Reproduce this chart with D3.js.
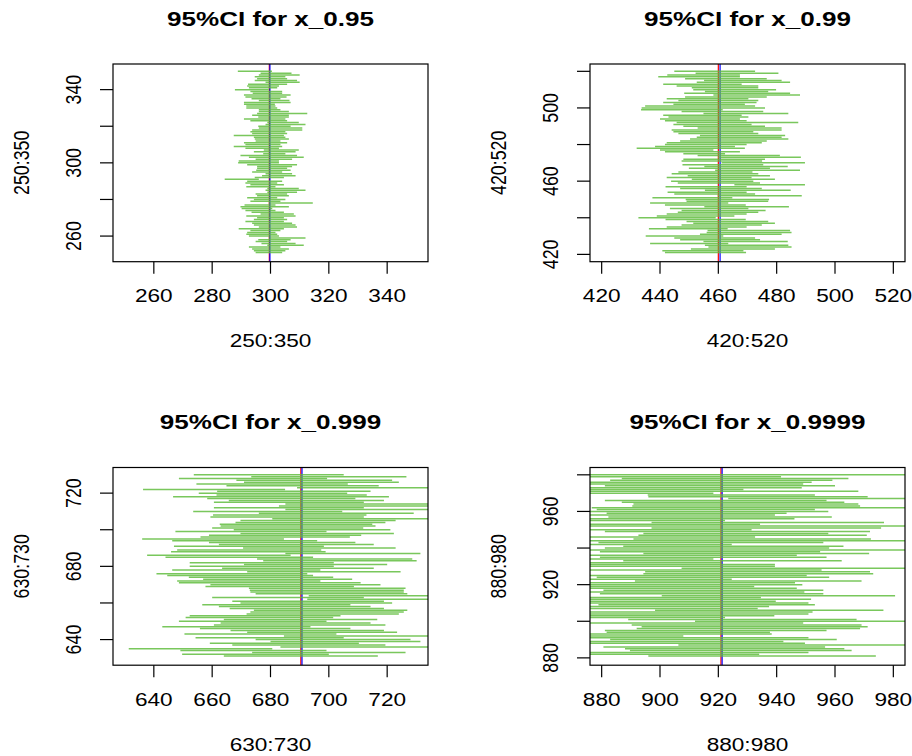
<!DOCTYPE html>
<html>
<head>
<meta charset="utf-8">
<script src="https://cdn.jsdelivr.net/npm/d3@7"></script>
<style>
  body { margin: 0; background: #fff; }
  svg { display: block; }
  text { font-family: "Liberation Sans", Arial, Helvetica, sans-serif; fill: #000; }
</style>
</head>
<body>
<svg width="912" height="756"></svg>
<script>
// CI lower / upper bounds, listed from the top row down
var lo1 = [288.8,296.6,296.0,294.6,295.4,294.6,298.3,292.3,292.0,292.6,
  287.8,293.1,293.9,290.9,291.4,293.5,296.0,290.9,290.9,291.7,
  291.7,296.0,296.0,295.4,293.7,295.8,290.9,293.1,298.9,298.3,
  295.8,296.0,293.7,293.1,293.7,287.4,294.3,294.6,294.9,290.9,
  291.4,287.4,291.4,297.7,294.3,297.5,289.7,292.6,294.9,289.1,
  288.9,292.0,295.4,295.4,295.1,293.7,298.3,297.1,294.6,284.3,
  292.0,291.4,293.1,291.7,298.9,298.3,298.9,294.9,295.4,292.0,
  294.3,293.1,299.4,291.1,289.7,290.1,291.4,293.5,296.6,291.7,
  295.4,294.3,291.4,293.7,294.3,296.0,289.1,293.1,292.0,291.7,
  292.6,299.4,295.8,294.9,296.9,298.9,292.6,293.7,294.3,294.9];
var hi1 = [300.5,307.2,310.0,305.1,305.7,309.1,310.0,305.7,302.9,302.3,
  299.4,304.0,304.0,306.9,305.5,303.4,306.5,306.9,301.5,301.7,
  302.3,303.4,306.3,312.6,306.3,306.3,305.1,305.7,309.7,312.0,
  306.9,310.9,310.9,305.1,305.7,304.6,305.1,306.3,303.4,305.7,
  303.4,304.0,302.9,309.7,308.6,305.1,309.1,311.4,307.4,302.9,
  302.9,309.1,307.4,305.7,306.9,304.0,307.4,308.6,304.6,296.0,
  304.0,302.3,304.6,301.7,309.7,312.0,309.1,305.7,306.3,302.3,
  305.1,303.4,314.5,301.7,306.3,300.6,301.7,304.6,308.0,308.6,
  304.6,305.7,304.6,307.4,308.6,309.1,304.6,303.4,301.7,302.3,
  302.9,312.0,306.9,305.7,308.6,311.4,303.4,306.3,305.1,304.0];

var lo2 = [444.9,452.2,442.5,439.4,448.6,455.1,452.6,441.1,445.7,450.9,
  451.4,455.4,448.3,458.3,448.6,442.3,446.3,441.1,444.6,434.9,
  433.7,433.5,447.4,454.9,441.1,442.9,440.0,441.7,445.7,444.6,
  448.0,452.9,444.0,444.6,446.3,453.7,452.6,450.3,446.9,442.3,
  441.7,438.3,432.0,440.0,441.7,448.0,452.9,459.9,448.0,447.4,
  461.1,447.7,455.2,449.9,458.9,446.3,444.0,449.5,442.3,450.9,
  443.8,446.1,465.5,441.9,446.9,455.4,442.6,444.9,459.8,437.4,
  448.8,449.1,436.6,441.7,455.2,443.4,447.4,446.1,442.3,438.9,
  432.6,441.9,449.1,451.4,447.4,442.3,436.2,456.3,456.0,453.7,
  435.1,444.9,446.9,454.9,436.6,455.4,456.6,450.6,440.8,441.7];
var hi2 = [472.6,480.6,467.4,467.4,476.6,481.7,484.6,468.0,473.7,473.7,
  479.8,477.1,484.6,488.0,476.6,470.3,473.7,473.1,469.1,472.6,
  476.0,461.5,475.4,484.0,468.0,470.3,467.4,469.7,487.4,471.4,
  476.0,481.7,481.7,472.0,473.7,482.9,481.7,484.0,476.6,474.9,
  469.7,465.7,469.1,458.3,467.4,462.3,481.1,488.3,476.0,475.0,
  489.7,475.4,483.8,477.7,488.0,471.7,473.7,477.7,471.4,479.4,
  472.0,474.3,489.7,469.7,474.9,484.8,469.7,472.6,488.6,464.8,
  477.4,477.1,463.4,469.4,484.2,470.3,476.2,473.7,469.7,465.5,
  459.1,469.4,477.1,479.4,474.9,469.7,463.2,484.6,485.1,481.7,
  461.7,472.6,474.3,483.8,463.4,484.0,485.1,479.4,468.6,469.5];

var lo3 = [653.7,673.4,648.6,668.3,670.9,654.6,664.9,689.1,636.3,661.7,
  655.4,661.5,646.6,658.3,665.7,660.6,685.1,682.9,660.6,685.1,
  653.5,676.0,660.3,659.4,680.6,669.7,668.0,662.6,662.9,660.0,
  667.4,647.4,669.7,658.9,656.0,636.0,646.3,658.9,662.3,646.9,
  670.6,648.0,645.9,685.1,637.7,644.0,675.4,677.5,652.3,670.9,
  652.3,663.4,646.3,672.0,640.9,644.6,652.0,656.9,648.0,648.6,
  659.4,657.7,672.6,672.9,673.1,674.9,693.1,660.0,692.6,666.9,
  669.7,656.6,662.3,666.0,674.3,673.1,671.8,652.3,650.9,664.0,
  648.6,662.9,660.6,642.9,655.8,666.3,672.0,650.5,684.6,654.3,
  674.9,680.0,659.2,666.9,683.4,631.4,649.1,673.7,649.7,664.0];
var hi3 = [705.1,726.6,699.4,721.7,724.0,706.5,717.1,738.0,685.0,714.3,
  706.3,713.0,720.6,709.1,718.9,712.0,737.5,736.0,712.0,739.0,
  704.6,729.1,712.9,712.0,735.5,722.9,719.4,714.9,716.0,711.8,
  721.1,699.2,722.3,711.1,707.2,684.6,696.0,709.1,715.4,698.3,
  722.9,697.4,698.9,731.4,686.9,694.6,728.6,730.1,701.7,720.0,
  701.7,715.4,697.1,724.6,692.6,694.6,701.5,708.0,697.1,710.9,
  717.7,708.6,726.3,725.7,725.7,726.9,740.0,712.0,741.0,718.9,
  721.7,707.4,714.3,718.9,726.9,725.7,724.0,704.0,701.5,716.6,
  699.2,714.3,719.4,693.7,707.4,718.9,723.4,702.6,738.0,705.1,
  728.0,731.4,710.3,719.4,739.0,680.6,699.2,726.3,700.0,716.8];

var lo4 = [874.0,875.0,886.9,882.9,874.0,874.5,881.1,873.5,875.0,874.0,
  874.5,895.8,896.0,923.4,881.1,886.9,890.9,890.5,876.6,878.3,
  873.0,881.7,874.0,882.3,873.5,874.5,897.1,875.0,873.0,897.1,
  874.0,881.1,894.3,892.6,874.5,890.9,873.5,878.9,874.0,887.4,
  881.1,873.0,879.4,894.3,874.5,879.4,873.5,887.4,874.0,875.0,
  874.0,907.4,873.5,894.9,894.3,874.5,878.3,873.0,891.4,874.0,
  875.0,873.5,874.5,880.6,873.0,879.4,900.6,874.0,874.5,873.5,
  875.0,878.9,874.0,873.0,898.3,874.5,873.5,875.0,873.0,889.1,
  912.0,874.0,890.3,893.7,892.0,881.1,881.7,874.5,873.0,874.0,
  882.9,873.5,875.0,906.3,880.6,888.0,889.7,874.0,873.5,896.0];
var hi4 = [986.0,941.5,964.6,959.1,952.0,949.1,960.0,948.6,928.6,968.0,
  918.3,953.1,971.2,985.5,957.1,963.2,968.0,968.6,985.0,953.1,
  957.7,943.4,939.4,958.9,946.1,922.3,976.8,934.3,985.5,975.8,
  931.4,972.0,957.7,970.9,932.6,972.3,986.0,956.0,924.6,962.9,
  958.0,985.0,954.9,971.7,946.9,957.1,918.3,962.3,921.1,939.4,
  939.4,985.5,955.4,972.0,973.1,950.3,958.0,924.6,969.1,946.3,
  948.8,932.3,946.9,956.0,949.5,956.0,980.6,934.6,951.8,939.7,
  950.9,953.1,937.4,933.5,976.6,952.3,950.9,939.2,922.3,967.4,
  986.0,949.1,969.1,971.2,968.6,957.1,937.7,938.3,908.0,950.9,
  960.6,942.3,949.7,986.0,956.6,963.2,965.7,950.9,934.0,974.0];

var titles = ["95%CI for x_0.95", "95%CI for x_0.99", "95%CI for x_0.999", "95%CI for x_0.9999"];
var axisLabels = ["250:350", "420:520", "630:730", "880:980"];
var ranges = [[250, 350], [420, 520], [630, 730], [880, 980]];
var xTicks = [[260, 280, 300, 320, 340], [420, 440, 460, 480, 500, 520],
              [640, 660, 680, 700, 720], [880, 900, 920, 940, 960, 980]];
var yTicks = [[260, 280, 300, 320, 340], [420, 440, 460, 480, 500, 520],
              [640, 660, 680, 700, 720], [880, 900, 920, 940, 960, 980]];
var yTickLabels = [[260, 300, 340], [420, 460, 500], [640, 680, 720], [880, 920, 960]];
var trueVals = [299.6, 460.0, 690.4, 920.9];   // red line
var meanVals = [299.8, 460.6, 690.8, 921.3];   // blue line
var lows = [lo1, lo2, lo3, lo4];
var highs = [hi1, hi2, hi3, hi4];

var svg = d3.select("svg");
var sx = 1.27;   // the picture is stretched horizontally
var segColor = "#62bd3f";

var boxes = [
  {left: 113, top: 64}, {left: 590, top: 64},
  {left: 113, top: 467.5}, {left: 590, top: 467.5}
];
var pw = 315, ph = 197.7;

function txt(g, x, y, s, size, opts) {
  opts = opts || {};
  var t = "translate(" + x + "," + y + ") scale(" + sx + ",1)" + (opts.rot ? " rotate(-90)" : "");
  g.append("text")
    .attr("transform", t)
    .attr("text-anchor", "middle")
    .attr("dominant-baseline", "central")
    .style("font-size", size + "px")
    .style("font-weight", opts.bold ? "bold" : "normal")
    .text(s);
}

for (var p = 0; p < 4; p++) {
  var b = boxes[p];
  var r = ranges[p];
  var ext = (r[1] - r[0]) * 0.04;
  var x = d3.scaleLinear().domain([r[0] - ext, r[1] + ext]).range([b.left, b.left + pw]);
  var y = d3.scaleLinear().domain([r[0] - ext, r[1] + ext]).range([b.top + ph, b.top]);
  var rows = d3.range(r[1], r[0], -1);   // r[1] down to r[0]+1

  var g = svg.append("g");

  g.append("clipPath").attr("id", "clip" + p)
    .append("rect").attr("x", b.left).attr("y", b.top).attr("width", pw).attr("height", ph);

  var plot = g.append("g").attr("clip-path", "url(#clip" + p + ")");

  plot.append("line")
    .attr("x1", x(trueVals[p])).attr("x2", x(trueVals[p]))
    .attr("y1", b.top).attr("y2", b.top + ph)
    .attr("stroke", "red").attr("stroke-width", 1.2);
  plot.append("line")
    .attr("x1", x(meanVals[p])).attr("x2", x(meanVals[p]))
    .attr("y1", b.top).attr("y2", b.top + ph)
    .attr("stroke", "blue").attr("stroke-width", 1.2);

  plot.selectAll("line.ci")
    .data(rows)
    .enter().append("line")
    .attr("class", "ci")
    .attr("x1", function(d, i) { return x(lows[p][i]); })
    .attr("x2", function(d, i) { return x(highs[p][i]); })
    .attr("y1", function(d) { return y(d); })
    .attr("y2", function(d) { return y(d); })
    .attr("stroke", segColor)
    .attr("stroke-opacity", 0.85)
    .attr("stroke-width", 1.5);

  // box
  g.append("rect")
    .attr("x", b.left).attr("y", b.top).attr("width", pw).attr("height", ph)
    .attr("fill", "none").attr("stroke", "#000").attr("stroke-width", 1.2);

  // x axis
  xTicks[p].forEach(function(v) {
    g.append("line").attr("x1", x(v)).attr("x2", x(v))
      .attr("y1", b.top + ph).attr("y2", b.top + ph + 12)
      .attr("stroke", "#000").attr("stroke-width", 1.2);
    txt(g, x(v), b.top + ph + 34.5, v, 17.8);
  });
  // y axis
  yTicks[p].forEach(function(v) {
    g.append("line").attr("x1", b.left - 13).attr("x2", b.left)
      .attr("y1", y(v)).attr("y2", y(v))
      .attr("stroke", "#000").attr("stroke-width", 1.2);
  });
  yTickLabels[p].forEach(function(v) {
    txt(g, b.left - 40, y(v), v, 17.8, {rot: true});
  });

  var cx = b.left + pw / 2;
  txt(g, cx, b.top - 45, titles[p], 20.5, {bold: true});
  txt(g, cx, b.top + ph + 79.5, axisLabels[p], 17.8);
  txt(g, b.left - 92, b.top + ph / 2, axisLabels[p], 17.8, {rot: true});
}
</script>
</body>
</html>
